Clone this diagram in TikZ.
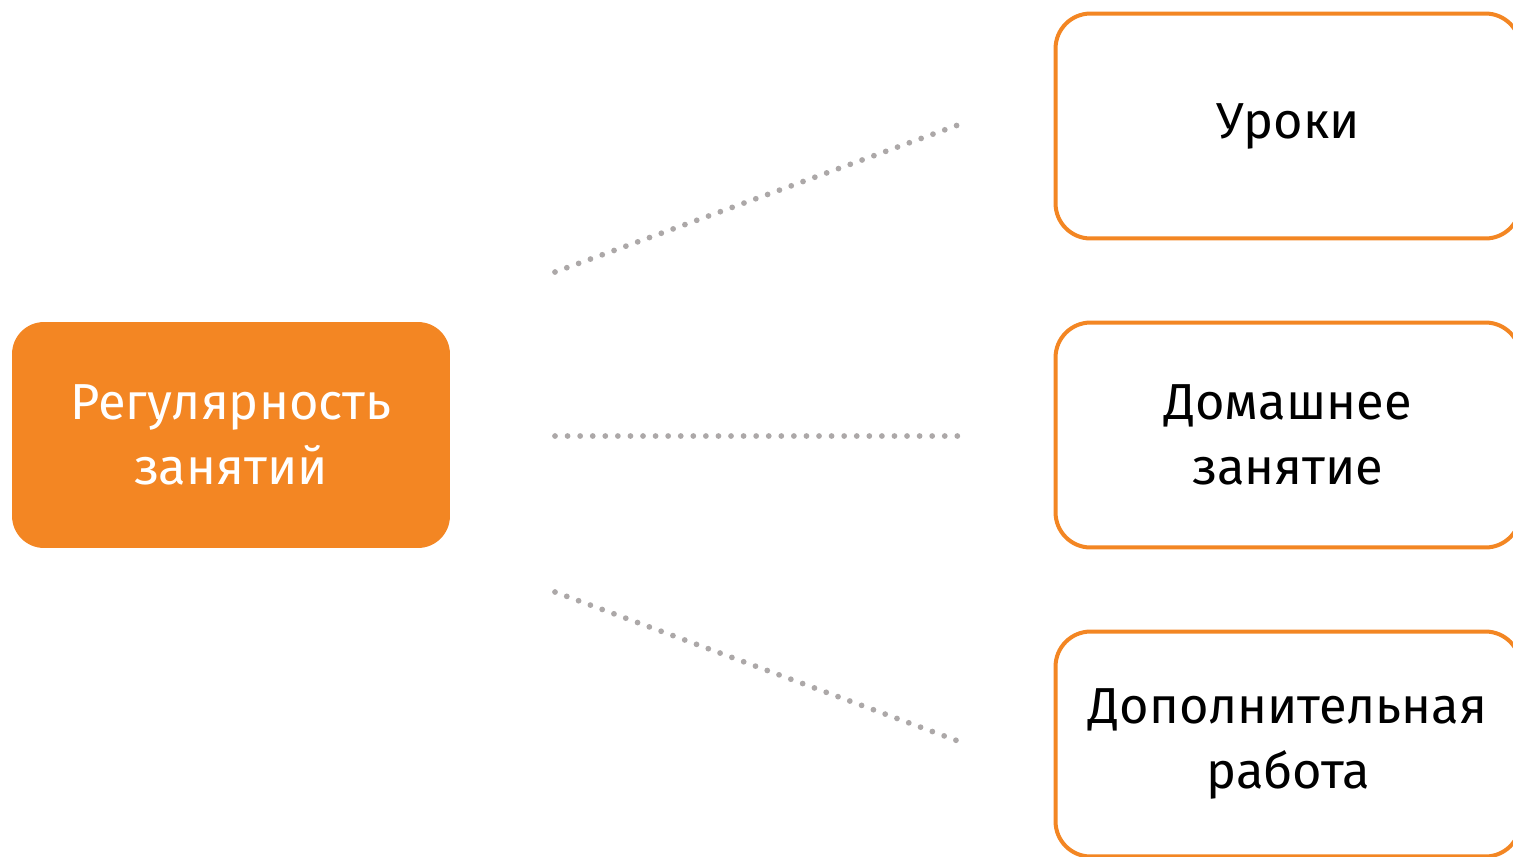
\documentclass[tikz,border=0pt]{standalone}
\usepackage{fontspec}
\setmainfont{Fira Sans}
\definecolor{orng}{RGB}{243,134,35}
\definecolor{dotgray}{RGB}{172,168,168}
\begin{document}
\begin{tikzpicture}[x=0.02cm, y=-0.02cm]
       \tikzstyle{mainbox}=[rounded corners=0.64cm, fill=orng, text=white, minimum width=8.76cm, minimum height=4.52cm, align=center, inner sep=0pt]
       \tikzstyle{sidebox}=[rounded corners=0.7cm, draw=orng, line width=0.08cm, fill=white, text=black, minimum width=9.3cm, minimum height=4.5cm, align=center, inner sep=0pt]
       \tikzstyle{dotline}=[dotgray, line width=0.115cm, line cap=round, dash pattern=on 0pt off 0.2515cm]
       \tikzstyle{boxtext}=[font=\fontsize{28.8}{37}\selectfont]
       \clip (0,0) rectangle (1513,856);
       \node[mainbox, boxtext] (reg) at (231,435) {Регулярность\\занятий};
       \node[sidebox, boxtext] (urok) at (1288,126) {Уроки};
       \node[sidebox, boxtext] (dom) at (1288,435) {Домашнее\\занятие};
       \node[sidebox, boxtext] (dop) at (1288,744) {Дополнительная\\работа};
       % free ends of the dotted links
       \coordinate (r1) at (555,272);
       \coordinate (r2) at (555,436);
       \coordinate (r3) at (555,592);
       \coordinate (u1) at (958,125);
       \coordinate (d1) at (958,436);
       \coordinate (p1) at (958,741);
       \draw[dotline] (r1) -- (u1);
       \draw[dotline] (r2) -- (d1);
       \draw[dotline] (r3) -- (p1);
\end{tikzpicture}
\end{document}
